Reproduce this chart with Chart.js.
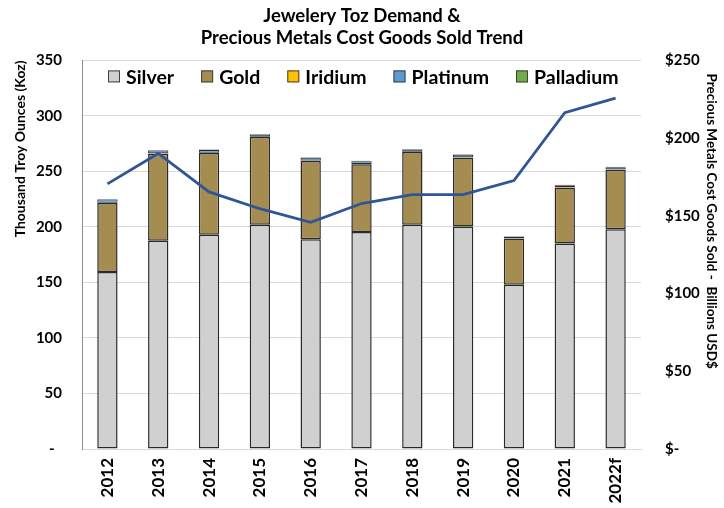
<!DOCTYPE html>
<html>
<head>
<meta charset="utf-8">
<script src="https://cdn.jsdelivr.net/npm/chart.js@4.4.0/dist/chart.umd.min.js"></script>
<style>
  html, body { margin: 0; padding: 0; background: #fff; }
  #wrap { width: 724px; height: 508px; }
</style>
</head>
<body>
<div id="wrap"><canvas id="jewelryChart" width="724" height="508"></canvas></div>
<script>
const years = ["2012", "2013", "2014", "2015", "2016", "2017", "2018", "2019", "2020", "2021", "2022f"];
const silver = [159.5, 187.5, 193, 202, 189, 195.5, 202, 200.5, 148, 185, 198];
const gold = [62, 78.5, 73.5, 79, 70.5, 61, 65.5, 62, 41.5, 50.5, 53.5];
const iridium = [0.3, 0.3, 0.3, 0.3, 0.3, 0.3, 0.3, 0.3, 0.3, 0.3, 0.3];
const platinum = [2.9, 2.6, 2.6, 2.0, 2.6, 2.4, 2.0, 2.3, 1.4, 1.8, 2.0];
const palladium = [0.4, 0.4, 0.4, 0.4, 0.4, 0.4, 0.4, 0.4, 0.4, 0.4, 0.4];
const costGoodsSold = [170.6, 190.1, 165.4, 154.6, 145.8, 157.9, 163.7, 163.7, 172.7, 216.3, 225.7];

Chart.defaults.font.family = "Lato, 'Open Sans', sans-serif";
Chart.defaults.color = "#000";

// legend drawn inside the plot area, like the excel original
const insideLegend = {
    id: 'insideLegend',
    afterDatasetsDraw(chart) {
        const ctx = chart.ctx;
        const area = chart.chartArea;
        let x = area.left + 26;
        const y = area.top + 16;
        ctx.save();
        ctx.font = "bold 19.5px Lato, 'Open Sans', sans-serif";
        ctx.textBaseline = 'middle';
        ctx.textAlign = 'left';
        chart.data.datasets.forEach(function (ds) {
            if (ds.type === 'line') return;
            ctx.fillStyle = ds.backgroundColor;
            ctx.fillRect(x, y - 6, 12, 12);
            ctx.strokeStyle = "#404040";
            ctx.lineWidth = 1;
            ctx.strokeRect(x + 0.5, y - 5.5, 11, 11);
            ctx.fillStyle = "#000";
            ctx.fillText(ds.label, x + 18, y + 1);
            x += 18 + ctx.measureText(ds.label).width + 27;
        });
        ctx.restore();
    }
};

function barSet(label, data, color, bw) {
    return {
        label: label,
        data: data,
        backgroundColor: color,
        borderColor: "#2a2a2a",
        borderWidth: bw,
        borderSkipped: false,
        barPercentage: 0.4,
        categoryPercentage: 1,
        yAxisID: 'y',
        order: 1
    };
}

const CHART = document.getElementById("jewelryChart");
let comboChart = new Chart(CHART, {
    type: 'bar',
    data: {
        labels: years,
        datasets: [
            {
                type: 'line',
                label: "Precious Metals Cost Goods Sold",
                data: costGoodsSold,
                borderColor: "#2f5597",
                backgroundColor: "#2f5597",
                borderWidth: 2.75,
                pointRadius: 0,
                tension: 0,
                fill: false,
                yAxisID: 'y1',
                order: 0
            },
            barSet("Silver", silver, "#d0d0d0", 1.5),
            barSet("Gold", gold, "#a58d52", 1.5),
            barSet("Iridium", iridium, "#ffc000", 1),
            barSet("Platinum", platinum, "#5b9bd5", 1),
            barSet("Palladium", palladium, "#70ad47", 1)
        ]
    },
    options: {
        responsive: false,
        animation: false,
        layout: { padding: 0 },
        plugins: {
            legend: { display: false },
            tooltip: { enabled: false },
            title: {
                display: true,
                text: ["Jewelery Toz Demand &", "Precious Metals Cost Goods Sold Trend"],
                color: "#000",
                font: { size: 18.5, weight: 'bold', lineHeight: 1.2 },
                padding: { top: 5, bottom: 11 }
            }
        },
        scales: {
            x: {
                stacked: true,
                grid: { display: false, drawTicks: false },
                border: { color: "#d9d9d9", width: 1 },
                ticks: {
                    font: { size: 17, weight: 'bold' },
                    minRotation: 90,
                    maxRotation: 90,
                    padding: 9
                },
                afterFit: function (s) { s.height = 59; }
            },
            y: {
                stacked: true,
                position: 'left',
                min: 0,
                max: 350,
                grid: { color: "#d9d9d9", drawTicks: false },
                border: { color: "#8c8c8c", width: 1 },
                ticks: {
                    stepSize: 50,
                    padding: 20,
                    font: { size: 15, weight: 'bold' },
                    callback: function (v) { return v === 0 ? "-  " : v; }
                },
                title: {
                    display: true,
                    text: "Thousand Troy Ounces (Koz)",
                    align: 'end',
                    font: { size: 14, weight: 'bold' },
                    padding: { top: 12 }
                },
                afterFit: function (s) { s.width = 82; }
            },
            y1: {
                stacked: false,
                position: 'right',
                min: 0,
                max: 250,
                grid: { display: false, drawTicks: false },
                border: { display: false },
                ticks: {
                    stepSize: 50,
                    padding: 24,
                    font: { size: 15, weight: 'bold' },
                    callback: function (v) { return v === 0 ? "$-" : "$" + v; }
                },
                title: {
                    display: true,
                    text: "    Precious Metals Cost Goods Sold -  Billions USD$",
                    align: 'end',
                    font: { size: 13.5, weight: 'bold' },
                    padding: { top: 5 }
                },
                afterFit: function (s) { s.width = 83; }
            }
        }
    },
    plugins: [insideLegend]
});
</script>
</body>
</html>
